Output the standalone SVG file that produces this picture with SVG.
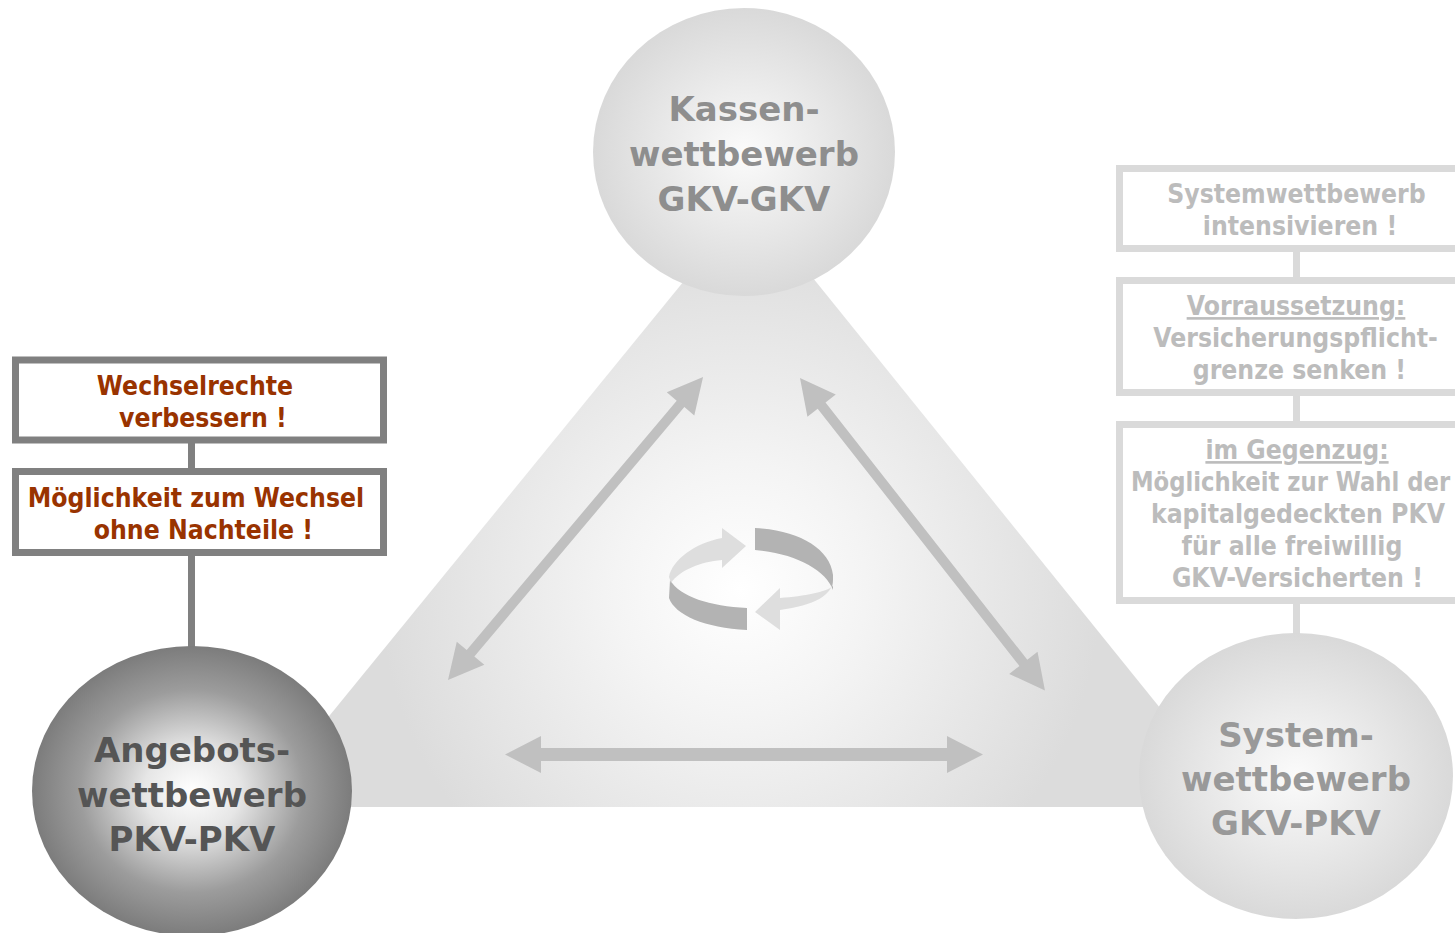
<svg xmlns="http://www.w3.org/2000/svg" width="1455" height="933" viewBox="0 0 1455 933">
<style>
.ct{font-family:"DejaVu Sans","Verdana",sans-serif;font-weight:bold;font-size:34px;text-anchor:middle}
.bt{font-family:"DejaVu Sans","Verdana",sans-serif;font-weight:bold;font-size:26px;text-anchor:middle}
.lb{fill:#fff;stroke:#808080;stroke-width:7}
.rb{fill:#fff;stroke:#dadada;stroke-width:7}
.lt{fill:#993300}
.rt{fill:#bcbcbc}
.arr{fill:#c0c0c0}
</style>
<defs>
<radialGradient id="gTri" gradientUnits="userSpaceOnUse" cx="740" cy="590" r="360">
<stop offset="0" stop-color="#ffffff"/>
<stop offset="0.35" stop-color="#f4f4f4"/>
<stop offset="1" stop-color="#dcdcdc"/>
</radialGradient>
<radialGradient id="gLight" cx="0.5" cy="0.5" r="0.5">
<stop offset="0" stop-color="#fbfbfb"/>
<stop offset="1" stop-color="#d9d9d9"/>
</radialGradient>
<radialGradient id="gDark" cx="0.5" cy="0.5" r="0.5">
<stop offset="0" stop-color="#ffffff"/>
<stop offset="0.3" stop-color="#e6e6e6"/>
<stop offset="0.7" stop-color="#9c9c9c"/>
<stop offset="1" stop-color="#7c7c7c"/>
</radialGradient>
</defs>
<rect width="1455" height="933" fill="#ffffff"/>
<polygon id="triangle" points="750,200 255,807 1240,807" fill="url(#gTri)"/>
<g id="cycle">
<path d="M670,580 C680,597 710,606 747,608 L747,630 C705,628 675,615 669,598 Z" fill="#b3b3b3"/>
<path d="M669,577 C672,560 695,543 722,538 L722,528 L746,546 L722,568 L722,560 C700,562 680,570 671,583 Z" fill="#dedede"/>
<path d="M755,528 C798,530 830,548 833,575 L833,590 C826,570 795,553 755,550 Z" fill="#b3b3b3"/>
<path d="M833,578 C834,595 815,605 780,610 L780,630 L755,612 L780,588 L780,598 C805,596 826,592 833,586 Z" fill="#dedede"/>
</g>
<g id="connectors">
<line x1="191.5" y1="440" x2="191.5" y2="655" stroke="#808080" stroke-width="7"/>
<line x1="1296.5" y1="250" x2="1296.5" y2="640" stroke="#dadada" stroke-width="7"/>
<polygon class="arr" transform="translate(448,680) rotate(-49.9)" points="0,0 35,-18 35,-5 361,-5 361,-18 396,0 361,18 361,5 35,5 35,18"/>
<polygon class="arr" transform="translate(800,378) rotate(51.9)" points="0,0 35,-18 35,-5 362,-5 362,-18 397,0 362,18 362,5 35,5 35,18"/>
<polygon class="arr" transform="translate(505,754.5)" points="0,0 36,-18.5 36,-6.5 442,-6.5 442,-18.5 478,0 442,18.5 442,6.5 36,6.5 36,18.5"/>
</g>
<g id="node-kassen">
<ellipse cx="744" cy="152" rx="151" ry="144" fill="url(#gLight)"/>
<text class="ct" fill="#8e8e8e"><tspan x="744" y="121">Kassen-</tspan><tspan x="744" y="166">wettbewerb</tspan><tspan x="744" y="211">GKV-GKV</tspan></text>
</g>
<g id="node-angebot">
<ellipse cx="192" cy="791" rx="160" ry="145" fill="url(#gDark)"/>
<text class="ct" fill="#555555"><tspan x="192" y="762">Angebots-</tspan><tspan x="192" y="807">wettbewerb</tspan><tspan x="192" y="851">PKV-PKV</tspan></text>
</g>
<g id="node-system">
<ellipse cx="1296" cy="776" rx="157" ry="143" fill="url(#gLight)"/>
<text class="ct" fill="#999999"><tspan x="1296" y="747">System-</tspan><tspan x="1296" y="791">wettbewerb</tspan><tspan x="1296" y="835">GKV-PKV</tspan></text>
</g>
<g id="box-wechselrechte">
<rect class="lb" x="15.5" y="360" width="368" height="80"/>
<g transform="translate(196,0) scale(0.91,1) translate(-196,0)">
<text class="bt lt" x="194.9" y="395">Wechselrechte</text>
<text class="bt lt" x="203.7" y="427">verbessern !</text>
</g>
</g>
<g id="box-moeglichkeit">
<rect class="lb" x="15.5" y="471.5" width="368" height="81"/>
<g transform="translate(196,0) scale(0.91,1) translate(-196,0)">
<text class="bt lt" x="196" y="507">Möglichkeit zum Wechsel</text>
<text class="bt lt" x="204.2" y="539">ohne Nachteile !</text>
</g>
</g>
<g id="box-systemwettbewerb">
<path class="rb" d="M1455,168.5 H1119.5 V248.5 H1455"/>
<g transform="translate(1296,0) scale(0.91,1) translate(-1296,0)">
<text class="bt rt" x="1296.5" y="203">Systemwettbewerb</text>
<text class="bt rt" x="1300.4" y="235">intensivieren !</text>
</g>
</g>
<g id="box-voraussetzung">
<path class="rb" d="M1455,280.5 H1119.5 V392.5 H1455"/>
<g transform="translate(1296,0) scale(0.91,1) translate(-1296,0)">
<text class="bt rt" x="1296" y="315" text-decoration="underline">Vorraussetzung:</text>
<text class="bt rt" x="1295.5" y="347">Versicherungspflicht-</text>
<text class="bt rt" x="1299.8" y="379">grenze senken !</text>
</g>
</g>
<g id="box-gegenzug">
<path class="rb" d="M1455,424.5 H1119.5 V600.5 H1455"/>
<g transform="translate(1296,0) scale(0.91,1) translate(-1296,0)">
<text class="bt rt" x="1297.1" y="459" text-decoration="underline">im Gegenzug:</text>
<text class="bt rt" x="1298.2" y="523">kapitalgedeckten PKV</text>
<text class="bt rt" x="1291.6" y="555">für alle freiwillig</text>
<text class="bt rt" x="1297.6" y="587">GKV-Versicherten !</text>
</g>
<g transform="translate(1131,0) scale(0.875,1) translate(-1131,0)">
<text class="bt rt" x="1131" y="491" style="text-anchor:start">Möglichkeit zur Wahl der</text>
</g>
</g>
</svg>
